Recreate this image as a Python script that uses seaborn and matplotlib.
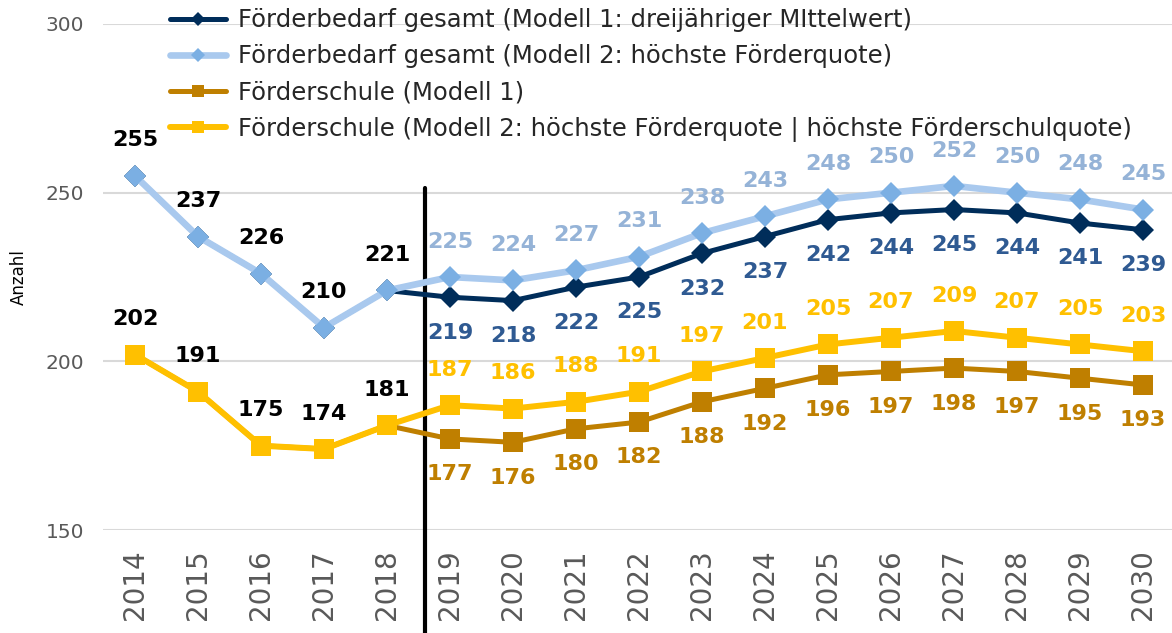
import pandas as pd
import matplotlib.pyplot as plt
import seaborn as sns

# ==============================
# Data
# ==============================

YEARS = list(range(2014, 2031))

BEDARF_M1 = [255, 237, 226, 210, 221, 219, 218, 222, 225, 232, 237, 242, 244, 245, 244, 241, 239]
BEDARF_M2 = [255, 237, 226, 210, 221, 225, 224, 227, 231, 238, 243, 248, 250, 252, 250, 248, 245]
SCHULE_M1 = [202, 191, 175, 174, 181, 177, 176, 180, 182, 188, 192, 196, 197, 198, 197, 195, 193]
SCHULE_M2 = [202, 191, 175, 174, 181, 187, 186, 188, 191, 197, 201, 205, 207, 209, 207, 205, 203]

LABELS = [
    "Förderbedarf gesamt (Modell 1: dreijähriger MIttelwert)",
    "Förderbedarf gesamt (Modell 2: höchste Förderquote)",
    "Förderschule (Modell 1)",
    "Förderschule (Modell 2: höchste Förderquote | höchste Förderschulquote)",
]

LAST_ACTUAL = 2018
Y_TICKS = [150, 200, 250, 300]

# ==============================
# Configuration
# ==============================

# (values, line colour, marker colour, label colour, marker, line width, marker size, label side)
STYLES = [
    (BEDARF_M1, "#002D5A", "#002D5A", "#2F5A92", "D", 3.6, 11.0, -1),
    (BEDARF_M2, "#A9C9EE", "#7BAFE3", "#95B3D7", "D", 4.8, 11.5, 1),
    (SCHULE_M1, "#BF7F00", "#BF7F00", "#BF7F00", "s", 3.6, 14.0, -1),
    (SCHULE_M2, "#FFC000", "#FFC000", "#FFC000", "s", 4.3, 14.0, 1),
]

GRID_COLOR = "#D9D9D9"
TICK_COLOR = "#595959"
VALUE_SIZE = 16
VALUE_OFFSET = 25.5


def draw_series(ax):
    handles = []
    for i, (values, lc, mc, tc, marker, lw, ms, side) in enumerate(STYLES):
        df = pd.DataFrame({"year": YEARS, "value": values})
        sns.lineplot(
            data=df, x="year", y="value", ax=ax,
            color=lc, linewidth=lw, marker=marker, markersize=ms,
            markerfacecolor=mc, markeredgecolor=mc, markeredgewidth=0,
            label=LABELS[i], zorder=3 + i,
        )
        handles.append(ax.lines[-1])

        for year, v in zip(YEARS, values):
            if year <= LAST_ACTUAL:
                # shared history, labelled once per pair in black above
                if i in (0, 2):
                    ax.annotate(str(v), (year, v), xytext=(0, VALUE_OFFSET),
                                textcoords="offset points", ha="center",
                                va="center", fontsize=VALUE_SIZE,
                                fontweight="bold", color="black", zorder=10)
                continue
            ax.annotate(str(v), (year, v), xytext=(0, VALUE_OFFSET * side),
                        textcoords="offset points", ha="center", va="center",
                        fontsize=VALUE_SIZE, fontweight="bold", color=tc,
                        zorder=10)
    return handles


def main():
    sns.set_style("white")
    plt.rcParams["font.family"] = ["DejaVu Sans"]

    fig = plt.figure(figsize=(11.72, 6.33), dpi=100)
    ax = fig.add_axes([0.0883, 0.1627, 0.9138, 0.7994])

    handles = draw_series(ax)

    ax.set_xlim(YEARS[0] - 0.5, YEARS[-1] + 0.5)
    ax.set_ylim(150, 300)
    ax.set_yticks(Y_TICKS)
    ax.set_xticks(YEARS)
    ax.set_xticklabels([str(y) for y in YEARS], rotation=90)
    ax.tick_params(axis="x", length=0, pad=14, labelsize=20, labelcolor=TICK_COLOR)
    ax.tick_params(axis="y", length=0, pad=14, labelsize=14.5, labelcolor=TICK_COLOR)
    ax.grid(axis="y", color=GRID_COLOR, linewidth=1.5, zorder=0)
    ax.grid(axis="x", visible=False)
    for spine in ax.spines.values():
        spine.set_visible(False)

    ax.set_xlabel("")
    ax.set_ylabel("Anzahl", fontsize=12, color="black")
    ax.yaxis.set_label_coords(-0.071, 0.5)

    # split between actual and projected years
    ax.axvline(LAST_ACTUAL + 0.6, ymin=-0.21, ymax=0.676, color="black",
               linewidth=3, clip_on=False, zorder=2)

    ax.legend(
        handles=handles, labels=LABELS, loc="upper left",
        bbox_to_anchor=(0.145, 0.987), bbox_transform=fig.transFigure,
        frameon=False, fontsize=17.5, borderpad=0, borderaxespad=0,
        handlelength=2.3, handletextpad=0.5, labelspacing=0.5,
        markerscale=0.65,
    )

    fig.savefig("out.png", dpi=100)
    plt.close(fig)


if __name__ == "__main__":
    main()
